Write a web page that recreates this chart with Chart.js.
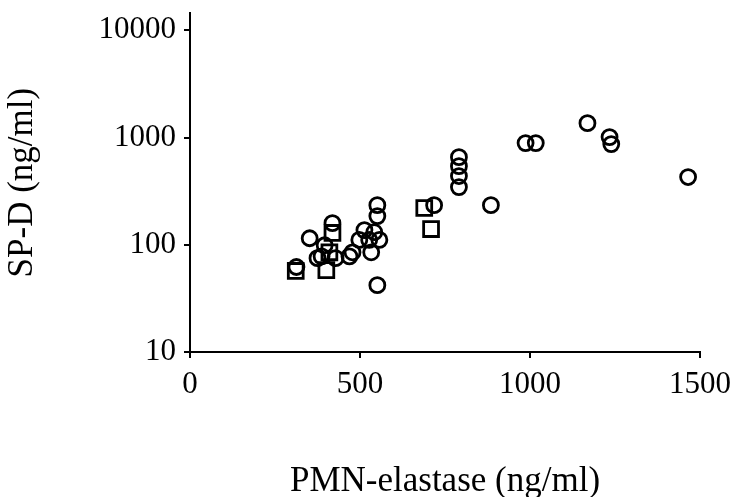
<!DOCTYPE html>
<html>
<head>
<meta charset="utf-8">
<script src="https://cdn.jsdelivr.net/npm/chart.js@4"></script>
<style>
html,body{margin:0;padding:0;background:#fff;}
#wrap{width:739px;height:497px;position:relative;}
</style>
</head>
<body>
<div id="wrap"><canvas id="c" width="739" height="497"></canvas></div>
<script>
// PMN-elastase (ng/ml) vs SP-D (ng/ml)
const circleX = [313, 352, 419, 396, 387, 428, 375, 551, 551, 513, 542, 498, 527, 557, 478, 533, 469, 551, 791, 791, 791, 791, 718, 885, 987, 1017, 1169, 1234, 1239, 1465];
const circleY = [62, 115, 159, 99, 78, 75, 75, 234, 185, 137, 131, 111, 111, 111, 85, 85, 78, 42, 656, 541, 437, 345, 234, 234, 887, 887, 1362, 1009, 868, 428];
const squareX = [311, 419, 410, 401, 689, 709];
const squareY = [57, 129, 85, 58, 220, 140];
const xTicks = [0, 500, 1000, 1500];
const yTicks = [10, 100, 1000, 10000];
const xTitle = 'PMN-elastase (ng/ml)';
const yTitle = 'SP-D (ng/ml)';

const toPts = (xs, ys) => xs.map((x, i) => ({x: x, y: ys[i]}));
const FONT = '"Liberation Serif", "DejaVu Serif", serif';

new Chart(document.getElementById('c'), {
  type: 'scatter',
  data: {
    datasets: [
      {label: 'circles', data: toPts(circleX, circleY), pointStyle: 'circle', pointRadius: 7.5,
       borderColor: '#000', backgroundColor: 'rgba(0,0,0,0)', borderWidth: 2.8},
      {label: 'squares', data: toPts(squareX, squareY), pointStyle: 'rect', pointRadius: 10.5,
       borderColor: '#000', backgroundColor: 'rgba(0,0,0,0)', borderWidth: 2.8}
    ]
  },
  options: {
    responsive: false,
    animation: false,
    events: [],
    layout: {padding: {left: 0, right: 37, top: 13, bottom: 0}},
    plugins: {legend: {display: false}, tooltip: {enabled: false}},
    scales: {
      x: {
        type: 'linear', min: 0, max: 1500,
        afterBuildTicks: s => { s.ticks = xTicks.map(v => ({value: v})); },
        afterFit: s => { s.height = 145; },
        grid: {drawOnChartArea: false, drawTicks: true, tickLength: 6, color: '#000', lineWidth: 2},
        border: {color: '#000', width: 2},
        ticks: {color: '#000', font: {family: FONT, size: 31}, padding: 8, maxRotation: 0,
                callback: v => String(v)},
        title: {display: true, text: xTitle, color: '#000', font: {family: FONT, size: 35},
                padding: {top: 0, bottom: -6}}
      },
      y: {
        type: 'logarithmic', min: 10, max: 14400,
        afterBuildTicks: s => { s.ticks = yTicks.map(v => ({value: v})); },
        afterFit: s => { s.width = 190; s.paddingTop = 0; s.paddingBottom = 0; },
        grid: {drawOnChartArea: false, drawTicks: true, tickLength: 6, color: '#000', lineWidth: 2},
        border: {color: '#000', width: 2},
        ticks: {color: '#000', font: {family: FONT, size: 31}, padding: 8,
                callback: v => String(v)},
        title: {display: true, text: yTitle, color: '#000', font: {family: FONT, size: 35},
                padding: {top: 2, bottom: 8}}
      }
    }
  }
});
</script>
</body>
</html>
